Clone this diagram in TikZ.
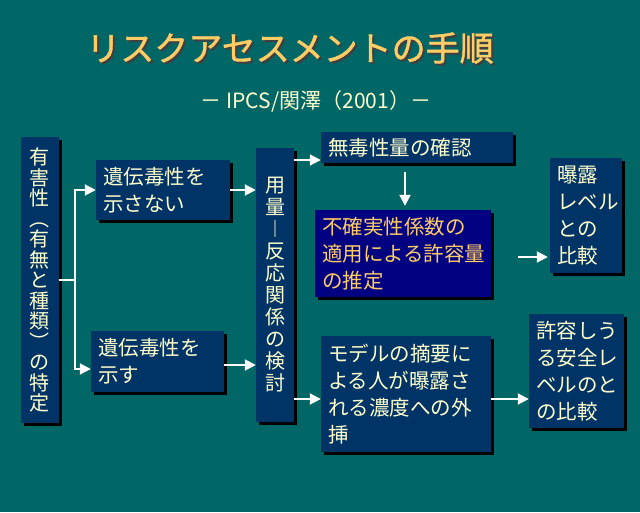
\documentclass[tikz,border=0pt]{standalone}
\usepackage{fontspec}
\newfontfamily\jp{Noto Sans CJK JP}
\newfontfamily\jpt{Noto Sans CJK JP}[FakeBold=1.2]
\usetikzlibrary{arrows.meta,shadows}
\definecolor{bg}{HTML}{006666}
\definecolor{boxblue}{HTML}{003366}
\definecolor{hotblue}{HTML}{000080}
\definecolor{cream}{HTML}{FFFFCC}
\definecolor{gold}{HTML}{FFCC66}
\newcommand\shadowtext[1]{\makebox[0pt][l]{\hspace{2pt}\raisebox{-2pt}{\color{black!75}#1}}#1}
\begin{document}
\begin{tikzpicture}[x=1pt, y=-1pt,
    box/.style={fill=boxblue, text=cream, inner xsep=7pt, inner ysep=0pt, align=left,
        drop shadow={shadow xshift=3pt, shadow yshift=-3pt, fill=black, opacity=1},
        font=\jp\fontsize{20.5}{27}\selectfont},
    vbox/.style={box, align=center, inner xsep=0pt, text width=38pt, minimum width=38pt},
    hot/.style={box, fill=hotblue, text=gold},
    arr/.style={draw=white, line width=2pt, -{Triangle[length=11pt,width=11pt]}}]
    \fill[bg] (0,0) rectangle (640,512);
    \useasboundingbox (0,0) rectangle (640,512);
    % title
    \node[text=gold, font=\jpt\fontsize{34}{40}\selectfont] (title) at (290,49) {\shadowtext{リスクアセスメントの手順}};
    \node[text=cream, font=\jp\fontsize{21}{24}\selectfont] (sub) at (316,101) {－ IPCS/関澤（2001）－};

    \node[vbox, minimum height=286pt, font=\jp\fontsize{20}{20.5}\selectfont] (A) at (39.5,280)
        {有\\害\\性\\︵\\有\\無\\と\\種\\類\\︶\\の\\特\\定};
    \node[box, minimum width=134pt, text width=120pt, minimum height=60pt] (B) at (163,190) {遺伝毒性を\\示さない};
    \node[box, minimum width=133pt, text width=119pt, minimum height=61pt] (C) at (157.5,361.5) {遺伝毒性を\\示す};
    \node[vbox, minimum height=274pt, font=\jp\fontsize{20}{22}\selectfont] (D) at (275,285)
        {用\\量\\︱\\反\\応\\関\\係\\の\\検\\討};
    \node[box, minimum width=192pt, text width=178pt, minimum height=31pt] (E) at (417,147.5) {無毒性量の確認};
    \node[hot, minimum width=176pt, text width=162pt, minimum height=87pt] (F) at (403,253.5) {不確実性係数の\\適用による許容量\\の推定};
    \node[box, minimum width=72pt, text width=58pt, minimum height=115pt] (G) at (586,215.5) {曝露\\レベル\\との\\比較};
    \node[box, minimum width=170pt, text width=156pt, minimum height=116pt] (H) at (406,394) {モデルの摘要に\\よる人が曝露さ\\れる濃度への外\\挿};
    \node[box, minimum width=95pt, text width=81pt, minimum height=114pt] (I) at (576.5,371) {許容しう\\る安全レ\\ベルのと\\の比較};

    \coordinate (fork) at (75,280);
    \coordinate (e1) at ([yshift=-12.5pt]E.west);
    \coordinate (h1) at ([yshift=-5pt]H.west);
    \coordinate (f1) at ([yshift=-3.5pt]F.east);
    \coordinate (h2) at ([yshift=-5pt]H.east);

    \draw[draw=white, line width=2pt] (A.east |- fork) -- (fork);
    \draw[arr] (fork) |- (B.west);
    \draw[arr] (fork) |- ([yshift=-7.5pt]C.west);
    \draw[arr] (B.east) -- (B.east -| D.west);
    \draw[arr] ([yshift=-3.5pt]C.east) -- ([yshift=-3.5pt]C.east -| D.west);
    \draw[arr] (D.east |- e1) -- (e1);
    \draw[arr] (D.east |- h1) -- (h1);
    \draw[arr, shorten <=9pt, shorten >=4pt] ([xshift=-12pt]E.south) -- ([xshift=-12pt]E.south |- F.north);
    \draw[arr, shorten <=27pt, shorten >=2pt] (f1) -- (f1 -| G.west);
    \draw[arr] (h2) -- (h2 -| I.west);
\end{tikzpicture}
\end{document}
